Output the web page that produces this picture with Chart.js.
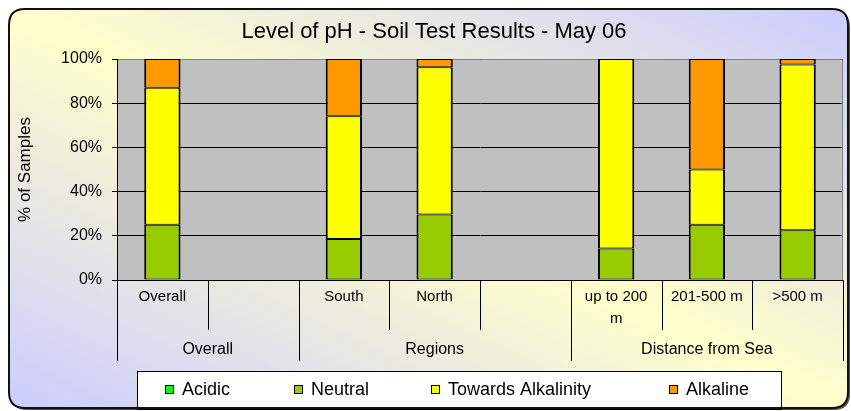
<!DOCTYPE html>
<html>
<head>
<meta charset="utf-8">
<script src="https://cdn.jsdelivr.net/npm/chart.js@4.4.0/dist/chart.umd.min.js"></script>
<style>
  html, body { margin: 0; padding: 0; background: #ffffff; }
  #wrap { position: relative; width: 851px; height: 411px; }
</style>
</head>
<body>
<div id="wrap"><canvas id="chart" width="851" height="411"></canvas></div>
<script>
// categories (multi-level: category row + group row)
const categories = ["Overall", "", "South", "North", "", ["up to 200", "m"], "201-500 m", ">500 m"];
const groupLabels = ["Overall", "Regions", "Distance from Sea"];
const groupSizes = [2, 3, 3];

// % of samples per pH class
const seriesNames = ["Acidic", "Neutral", "Towards Alkalinity", "Alkaline"];
const acidic = [0, null, 0, 0, null, 0, 0, 0];
const neutral = [25, null, 18.5, 29.6, null, 14.3, 25, 22.5];
const towardsAlkalinity = [62, null, 55.6, 66.7, null, 85.7, 25, 75];
const alkaline = [13, null, 25.9, 3.7, null, 0, 50, 2.5];

const yTicks = [0, 20, 40, 60, 80, 100];
const chartTitle = "Level of pH - Soil Test Results - May 06";
const yTitle = "% of Samples";

const seriesColors = ["#00FF00", "#99CC00", "#FFFF00", "#FF9900"];
const FONT = "'Liberation Sans', Arial, sans-serif";

// frame box (rounded, gradient)
const frame = { x: 9, y: 9, w: 839, h: 399, r: 16 };

function roundRectPath(ctx, x, y, w, h, r) {
    ctx.beginPath();
    ctx.moveTo(x + r, y);
    ctx.lineTo(x + w - r, y);
    ctx.quadraticCurveTo(x + w, y, x + w, y + r);
    ctx.lineTo(x + w, y + h - r);
    ctx.quadraticCurveTo(x + w, y + h, x + w - r, y + h);
    ctx.lineTo(x + r, y + h);
    ctx.quadraticCurveTo(x, y + h, x, y + h - r);
    ctx.lineTo(x, y + r);
    ctx.quadraticCurveTo(x, y, x + r, y);
    ctx.closePath();
}

const excelLook = {
    id: "excelLook",
    beforeDraw(chart) {
        const ctx = chart.ctx;
        const area = chart.chartArea;

        // shadow + gradient background in the rounded frame
        ctx.save();
        roundRectPath(ctx, frame.x + 2, frame.y + 2, frame.w, frame.h, frame.r);
        ctx.fillStyle = "#555555";
        ctx.fill();
        roundRectPath(ctx, frame.x, frame.y, frame.w, frame.h, frame.r);
        ctx.clip();
        ctx.translate(frame.x, frame.y);
        ctx.scale(frame.w, frame.h);
        const g = ctx.createLinearGradient(0, 1, 1, 0);
        g.addColorStop(0, "#CCCCFF");
        g.addColorStop(0.5, "#FFFFCC");
        g.addColorStop(1, "#CCCCFF");
        ctx.fillStyle = g;
        ctx.fillRect(0, 0, 1, 1);
        ctx.restore();

        // plot area
        ctx.save();
        ctx.fillStyle = "#C0C0C0";
        ctx.fillRect(area.left, area.top, area.right - area.left, area.bottom - area.top);
        ctx.restore();

        // title
        ctx.save();
        ctx.fillStyle = "#000";
        ctx.font = "22px " + FONT;
        ctx.textAlign = "center";
        ctx.textBaseline = "middle";
        ctx.fillText(chartTitle, 434, 32);
        ctx.restore();
    },
    beforeDatasetsDraw(chart) {
        const ctx = chart.ctx;
        const area = chart.chartArea;
        ctx.save();
        ctx.strokeStyle = "#808080";
        ctx.lineWidth = 1;
        ctx.beginPath();
        ctx.moveTo(area.left + 1, Math.round(area.top) + 0.5);
        ctx.lineTo(Math.round(area.right) - 0.5, Math.round(area.top) + 0.5);
        ctx.lineTo(Math.round(area.right) - 0.5, area.bottom);
        ctx.stroke();
        ctx.restore();
    },
    afterDraw(chart) {
        const ctx = chart.ctx;
        const area = chart.chartArea;
        const xs = chart.scales.x;
        const step = xs.getPixelForValue(1) - xs.getPixelForValue(0);
        const top = area.bottom;

        // separators of the two label rows
        const groupEdges = [0];
        groupSizes.forEach((s, i) => groupEdges.push(groupEdges[i] + s));
        ctx.save();
        ctx.strokeStyle = "#000";
        ctx.lineWidth = 1;
        for (let i = 0; i <= categories.length; i++) {
            const x = Math.round(xs.getPixelForValue(i) - step / 2) + 0.5;
            const len = groupEdges.includes(i) ? 81 : 50;
            ctx.beginPath();
            ctx.moveTo(x, top);
            ctx.lineTo(x, top + len);
            ctx.stroke();
        }

        // category labels
        ctx.fillStyle = "#000";
        ctx.font = "15px " + FONT;
        ctx.textAlign = "center";
        ctx.textBaseline = "middle";
        categories.forEach((lab, i) => {
            const x = xs.getPixelForValue(i);
            const lines = Array.isArray(lab) ? lab : [lab];
            lines.forEach((l, j) => ctx.fillText(l, x, top + 17 + j * 22));
        });

        // group labels
        ctx.font = "16px " + FONT;
        groupLabels.forEach((lab, gi) => {
            const a = xs.getPixelForValue(groupEdges[gi]) - step / 2;
            const b = xs.getPixelForValue(groupEdges[gi + 1]) - step / 2;
            ctx.fillText(lab, (a + b) / 2, top + 70);
        });

        // legend box
        ctx.fillStyle = "#FFFFFF";
        ctx.fillRect(137, 371, 644, 38);
        ctx.strokeStyle = "#000";
        ctx.strokeRect(137.5, 371.5, 644, 38);
        const legendX = [165, 294, 431, 669];
        ctx.font = "18px " + FONT;
        ctx.textAlign = "left";
        seriesNames.forEach((name, i) => {
            ctx.fillStyle = seriesColors[i];
            ctx.fillRect(legendX[i], 385, 9, 9);
            ctx.strokeRect(legendX[i] + 0.5, 385.5, 8, 8);
            ctx.fillStyle = "#000";
            ctx.fillText(name, legendX[i] + 17, 390);
        });
        ctx.restore();

        // frame border on top of everything
        ctx.save();
        roundRectPath(ctx, frame.x, frame.y, frame.w, frame.h, frame.r);
        ctx.strokeStyle = "#111";
        ctx.lineWidth = 2;
        ctx.stroke();
        ctx.restore();
    }
};

const datasets = [acidic, neutral, towardsAlkalinity, alkaline].map((data, i) => ({
    label: seriesNames[i],
    data: data,
    backgroundColor: seriesColors[i],
    borderColor: "#000000",
    borderWidth: { left: 2, right: 2, top: 1, bottom: 1 },
    borderSkipped: false,
    barPercentage: 0.4,
    categoryPercentage: 1.0
}));

new Chart(document.getElementById("chart").getContext("2d"), {
    type: "bar",
    data: { labels: categories, datasets: datasets },
    options: {
        responsive: false,
        animation: false,
        events: [],
        layout: { padding: { left: 9, top: 59, right: 8, bottom: 0 } },
        plugins: {
            legend: { display: false },
            title: { display: false },
            tooltip: { enabled: false }
        },
        scales: {
            x: {
                stacked: true,
                grid: { display: false },
                border: { display: true, color: "#000000", width: 1 },
                ticks: { display: false },
                afterFit: (s) => { s.height = 131; }
            },
            y: {
                stacked: true,
                min: yTicks[0],
                max: yTicks[yTicks.length - 1],
                afterBuildTicks: (s) => { s.ticks = yTicks.map(v => ({ value: v })); },
                ticks: {
                    callback: (v) => v + "%",
                    color: "#000000",
                    font: { family: FONT, size: 16 },
                    padding: 10
                },
                grid: { color: "#000000", lineWidth: 1, tickLength: 5 },
                border: { display: true, color: "#000000", width: 1 },
                title: {
                    display: true,
                    text: yTitle,
                    color: "#000000",
                    font: { family: FONT, size: 17 },
                    padding: { top: 6, bottom: 0 }
                },
                afterFit: (s) => { s.width = 108; }
            }
        }
    },
    plugins: [excelLook]
});
</script>
</body>
</html>
